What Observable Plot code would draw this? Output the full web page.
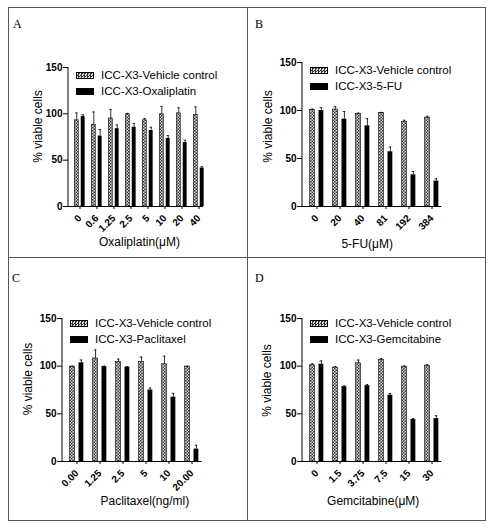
<!DOCTYPE html>
<html>
<head>
<meta charset="utf-8">
<script src="https://cdn.jsdelivr.net/npm/d3@7"></script>
<script src="https://cdn.jsdelivr.net/npm/@observablehq/plot@0.6"></script>
<style>
  body { margin: 0; background: #fff; font-family: "Liberation Sans", Arial, sans-serif; }
  #fig { position: relative; width: 495px; height: 529px; }
  .panel { position: absolute; }
  .panel svg { position: absolute; left: 0; top: 0; }
  .letter { position: absolute; font-family: "Liberation Serif", "Times New Roman", serif; font-size: 12px; line-height: 12px; }
  .legend { position: absolute; font-size: 11.5px; line-height: 16px; white-space: nowrap; }
  .legend .row { display: flex; align-items: center; height: 16px; }
  .legend .sw { display: inline-block; width: 16px; height: 5px; margin-right: 7px; border: 0.6px solid #000; }
  .legend .chk { background: repeating-conic-gradient(#333 0 25%, #ddd 0 50%) 0 0 / 3px 3px; }
  .legend .solid { background: #000; }
  .line { position: absolute; background: #555; z-index: 2; }
</style>
</head>
<body>
<div id="fig"></div>
<script>
const vehName = "ICC-X3-Vehicle control"

// A: oxaliplatin
const catsA = ["0", "0.6", "1.25", "2.5", "5", "10", "20", "40"]
const vehA = [93, 88, 95, 99.5, 93, 99.5, 100.5, 99]
const vehErrA = [8, 14, 9.5, 1, 2, 8.5, 6, 8.5]
const oxaA = [97, 76, 84, 85.5, 82, 73.5, 69, 41.5]
const oxaErrA = [2, 7, 4, 4, 3.5, 3, 2.5, 1.5]

// B: 5-FU
const catsB = ["0", "20", "40", "81", "192", "384"]
const vehB = [100.5, 101, 96.5, 97.5, 88, 92.5]
const vehErrB = [1, 3, 0.8, 0.5, 1.8, 1.5]
const fuB = [100, 91, 84, 57, 33, 26.5]
const fuErrB = [3, 8, 7.5, 5, 3.5, 2.5]

// C: paclitaxel
const catsC = ["0.00", "1.25", "2.5", "5", "10", "20.00"]
const vehC = [99.5, 108, 104.5, 104.5, 102, 99.5]
const vehErrC = [0.5, 9, 3, 5, 8.5, 0.5]
const paxC = [103.5, 99.5, 99, 75, 67.5, 13]
const paxErrC = [3, 0.5, 0.5, 2, 4, 4]

// D: gemcitabine
const catsD = ["0", "1.5", "3.75", "7.5", "15", "30"]
const vehD = [101, 98.5, 103, 106.5, 99.5, 100.5]
const vehErrD = [1.5, 1, 3.5, 1.5, 0.5, 1]
const gemD = [102, 78.5, 79.5, 69.5, 44, 45]
const gemErrD = [3.5, 0.7, 1.2, 1.8, 1, 3]

const panels = [
  {key: 'A', left: 8, top: 7, width: 239, height: 250, ml: 60, mt: 60, mr: 39, mb: 51, inset: 2, axisCut: 5,
   cats: catsA, veh: vehA, vehErr: vehErrA, drug: oxaA, drugErr: oxaErrA,
   drugName: 'ICC-X3-Oxaliplatin', xTitle: 'Oxaliplatin(μM)',
   letterX: 5, letterY: 11, legY: 0, yDx: -30, yDy: -10.5, xDx: 1, xDy: 36},
  {key: 'B', left: 247, top: 7, width: 238, height: 250, ml: 55, mt: 55, mr: 39.6, mb: 51, inset: 0, axisCut: 4,
   cats: catsB, veh: vehB, vehErr: vehErrB, drug: fuB, drugErr: fuErrB,
   drugName: 'ICC-X3-5-FU', xTitle: '5-FU(μM)',
   letterX: 8, letterY: 11, legY: 0, yDx: -34.5, yDy: -8, xDx: -7, xDy: 38},
  {key: 'C', left: 8, top: 257, width: 239, height: 263, ml: 54, mt: 61, mr: 41.4, mb: 59, inset: 0, axisCut: 4,
   cats: catsC, veh: vehC, vehErr: vehErrC, drug: paxC, drugErr: paxErrC,
   drugName: 'ICC-X3-Paclitaxel', xTitle: 'Paclitaxel(ng/ml)',
   letterX: 4, letterY: 15, legY: -3, yDx: -34.5, yDy: -11, xDx: 10.5, xDy: 40},
  {key: 'D', left: 247, top: 257, width: 238, height: 263, ml: 55, mt: 61, mr: 39.6, mb: 59, inset: 0, axisCut: 4,
   cats: catsD, veh: vehD, vehErr: vehErrD, drug: gemD, drugErr: gemErrD,
   drugName: 'ICC-X3-Gemcitabine', xTitle: 'Gemcitabine(μM)',
   letterX: 8, letterY: 15, legY: -3, yDx: -35.5, yDy: -9.5, xDx: -1, xDy: 40},
]

const fig = d3.select('#fig')

// línea del eje y, dibujada con la escala y del gráfico
const yAxisLine = (index, {y}, values, {marginLeft}) =>
  d3.create('svg:line')
    .attr('x1', marginLeft).attr('x2', marginLeft)
    .attr('y1', y(0)).attr('y2', y(150))
    .attr('stroke', '#000')
    .node()

panels.forEach(p => {
  let rows = p.cats.map((c, i) => ({
    cat: c, veh: p.veh[i], vehErr: p.vehErr[i], drug: p.drug[i], drugErr: p.drugErr[i]
  }))
  // ancho de banda, barras agrupadas centradas en el tick
  let bw = (p.width - p.ml - p.mr - p.inset) / p.cats.length
  let w = 0.24 * bw, g = 0.13 * bw, cap = 0.6 * w
  let off = g / 2 + w / 2
  let pat = 'chk' + p.key

  let chart = Plot.plot({
    width: p.width,
    height: p.height,
    marginLeft: p.ml,
    marginTop: p.mt,
    marginRight: p.mr,
    marginBottom: p.mb,
    style: {background: 'transparent', fontFamily: '"Liberation Sans", Arial, sans-serif', fontSize: '10px', color: '#000'},
    x: {type: 'band', domain: p.cats, padding: 0, insetLeft: p.inset, tickRotate: -45, tickSize: 3, tickPadding: 7, label: null},
    y: {domain: [0, 150], ticks: [0, 50, 100, 150], tickSize: 5, tickPadding: 1, label: null},
    marks: [
      Plot.barY(rows, {x: 'cat', y: 'veh', fill: `url(#${pat})`, stroke: '#000', strokeWidth: 0.6,
        insetLeft: bw / 2 - off - w / 2, insetRight: bw / 2 + off - w / 2}),
      Plot.barY(rows, {x: 'cat', y: 'drug', fill: '#000',
        insetLeft: bw / 2 + off - w / 2, insetRight: bw / 2 - off - w / 2}),
      Plot.ruleX(rows, {x: 'cat', y1: 'veh', y2: d => d.veh + d.vehErr, dx: -off, strokeWidth: 0.8}),
      Plot.tickY(rows, {x: 'cat', y: d => d.veh + d.vehErr, strokeWidth: 0.8,
        insetLeft: bw / 2 - off - cap / 2, insetRight: bw / 2 + off - cap / 2}),
      Plot.ruleX(rows, {x: 'cat', y1: 'drug', y2: d => d.drug + d.drugErr, dx: off, strokeWidth: 0.8}),
      Plot.tickY(rows, {x: 'cat', y: d => d.drug + d.drugErr, strokeWidth: 0.8,
        insetLeft: bw / 2 + off - cap / 2, insetRight: bw / 2 - off - cap / 2}),
      Plot.ruleY([0], {insetRight: p.axisCut}),
      yAxisLine,
      Plot.text(['% viable cells'], {frameAnchor: 'left', textAnchor: 'middle', lineAnchor: 'middle',
        rotate: -90, dx: p.yDx, dy: p.yDy, fontSize: 12}),
      Plot.text([p.xTitle], {frameAnchor: 'bottom', textAnchor: 'middle', lineAnchor: 'middle',
        dx: p.xDx, dy: p.xDy, fontSize: 12}),
    ],
  })

  // patrón cuadriculado para las barras del control
  d3.select(chart).insert('defs', ':first-child').html(
    `<pattern id="${pat}" width="3" height="3" patternUnits="userSpaceOnUse">` +
    `<rect width="3" height="3" fill="#ddd"/><rect width="1.5" height="1.5" fill="#333"/>` +
    `<rect x="1.5" y="1.5" width="1.5" height="1.5" fill="#333"/></pattern>`)
  d3.select(chart).selectAll('g[aria-label^="x-axis"] text, g[aria-label^="y-axis"] text')
    .style('font-weight', 'bold').style('font-size', '10px')

  let div = fig.append('div').attr('class', 'panel')
    .style('left', p.left + 'px').style('top', p.top + 'px')
    .style('width', p.width + 'px').style('height', p.height + 'px')
  div.append(() => chart)
  div.append('div').attr('class', 'letter').text(p.key)
    .style('left', p.letterX + 'px').style('top', p.letterY + 'px')

  let leg = div.append('div').attr('class', 'legend')
    .style('left', (p.ml + 8) + 'px').style('top', (p.mt + p.legY) + 'px')
  let r1 = leg.append('div').attr('class', 'row')
  r1.append('span').attr('class', 'sw chk')
  r1.append('span').text(vehName)
  let r2 = leg.append('div').attr('class', 'row')
  r2.append('span').attr('class', 'sw solid')
  r2.append('span').text(p.drugName)
})

// marco y divisiones
const lines = [
  [8, 7, 478, 1], [8, 520, 478, 1], [8, 7, 1, 514], [485, 7, 1, 514],
  [247, 7, 1, 514], [8, 257, 478, 1],
]
lines.forEach(([x, y, w, h]) => {
  fig.append('div').attr('class', 'line')
    .style('left', x + 'px').style('top', y + 'px')
    .style('width', w + 'px').style('height', h + 'px')
})
</script>
</body>
</html>
